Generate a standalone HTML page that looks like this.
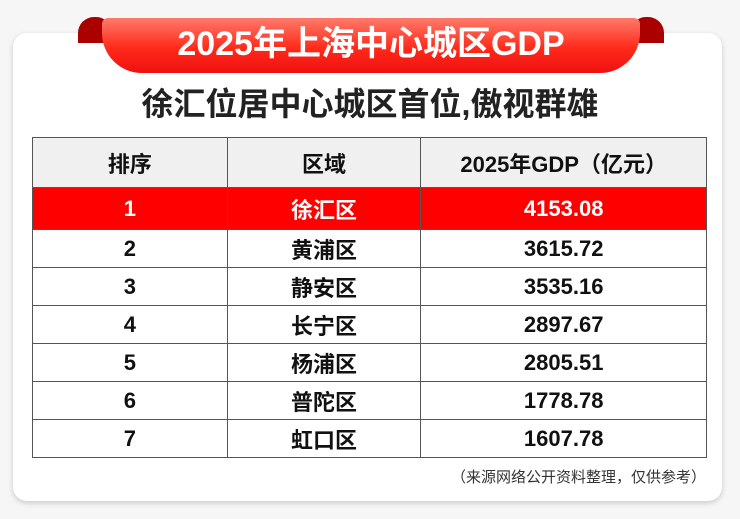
<!DOCTYPE html>
<html><head><meta charset="utf-8"><style>
body{margin:0;width:740px;height:519px;background:#f6f6f6;font-family:"Liberation Sans","Noto Sans CJK SC",sans-serif;position:relative;overflow:hidden}
.card{position:absolute;left:13px;top:33px;width:709px;height:468px;background:#fff;border-radius:14px;box-shadow:0 2px 6px rgba(0,0,0,.18)}
.fold{position:absolute;top:17px;width:34px;height:26px;background:#a00;border-radius:16px 16px 0 0}
.ribbon{position:absolute;left:102px;top:18px;width:538px;height:55px;background:linear-gradient(#ff7a6a,#ff2a1a 55%,#f01010);border-radius:6px 6px 40px 40px;color:#fff;font-size:34px;font-weight:bold;text-align:center;line-height:52px}
.sub{position:absolute;left:0;top:82px;width:740px;text-align:center;font-size:32px;font-weight:bold;color:#222;line-height:44px}
table{position:absolute;left:32px;top:137px;width:675px;border-collapse:collapse;border:1.5px solid #333}
td{border:1px solid #555;text-align:center;font-size:22px;font-weight:bold;color:#111;height:37px;padding:0}
tr.h td{background:#f0f0f0;height:49px}
tr.r td{background:#ff0000;color:#fff;height:41px}
.foot{position:absolute;right:34px;top:466px;font-size:15px;color:#333}
</style></head><body>
<div class="card"></div>
<div class="fold" style="left:78px"></div>
<div class="fold" style="left:630px"></div>
<div class="ribbon">2025年上海中心城区GDP</div>
<div class="sub">徐汇位居中心城区首位,傲视群雄</div>
<table>
<colgroup><col style="width:195px"><col style="width:194px"><col style="width:286px"></colgroup>
<tr class="h"><td>排序</td><td>区域</td><td>2025年GDP（亿元）</td></tr>
<tr class="r"><td>1</td><td>徐汇区</td><td>4153.08</td></tr>
<tr><td>2</td><td>黄浦区</td><td>3615.72</td></tr>
<tr><td>3</td><td>静安区</td><td>3535.16</td></tr>
<tr><td>4</td><td>长宁区</td><td>2897.67</td></tr>
<tr><td>5</td><td>杨浦区</td><td>2805.51</td></tr>
<tr><td>6</td><td>普陀区</td><td>1778.78</td></tr>
<tr><td>7</td><td>虹口区</td><td>1607.78</td></tr>
</table>
<div class="foot">（来源网络公开资料整理，仅供参考）</div>
</body></html>
